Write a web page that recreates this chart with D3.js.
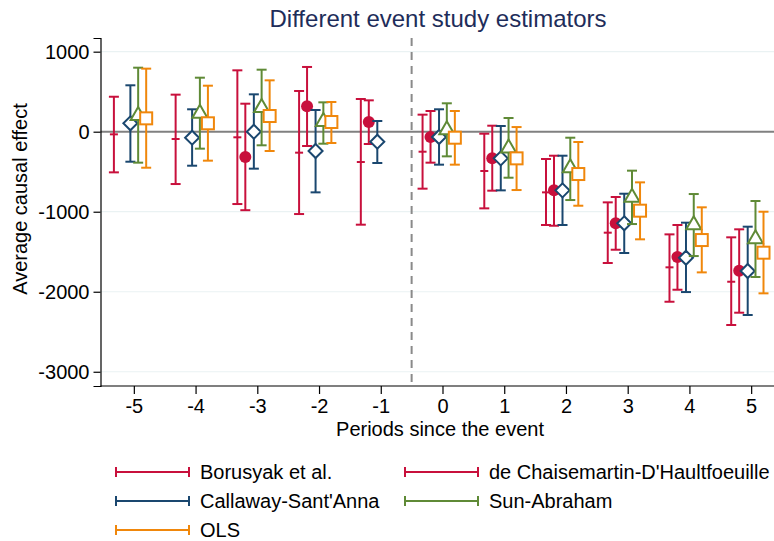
<!DOCTYPE html>
<html><head><meta charset="utf-8">
<script src="https://cdn.jsdelivr.net/npm/d3@7"></script>
<style>body{margin:0;background:#fff}svg{display:block;font-family:Arial,"Liberation Sans",sans-serif}</style>
</head><body>
<script>
const periods = [-5,-4,-3,-2,-1,0,1,2,3,4,5];
const yTicks = [1000,0,-1000,-2000,-3000];
const seriesNames = ["Borusyak et al.","de Chaisemartin-D'Haultfoeuille","Callaway-Sant'Anna","Sun-Abraham","OLS"];
// point estimates and confidence bounds
const borEst = [-33,-91,-70,-262,-379,-250,-491,-758,-1262,-1695,-1875];
const borLo  = [-508,-654,-904,-1029,-1162,-712,-958,-1166,-1641,-2125,-2416];
const borHi  = [437,463,767,509,409,213,-25,-341,-883,-1283,-1320];
const dcdEst = [null,null,-316,317,121,-66,-333,-733,-1145,-1566,-1737];
const dcdLo  = [null,null,-981,-179,-154,-387,-737,-1175,-1475,-1975,-2262];
const dcdHi  = [null,null,350,809,392,259,75,-300,-816,-1166,-1220];
const csEst  = [105,-75,0,-241,-125,-66,-333,-733,-1145,-1575,-1741];
const csLo   = [-375,-425,-462,-758,-391,-412,-733,-1166,-1516,-2004,-2291];
const csHi   = [580,280,467,271,134,280,71,-300,-775,-1137,-1187];
const saEst  = [210,237,310,134,null,30,-196,-445,-812,-1158,-1333];
const saLo   = [-387,-212,-170,-150,null,-308,-575,-854,-1154,-1554,-1816];
const saHi   = [800,675,775,367,null,355,171,-75,-487,-779,-866];
const olsEst = [167,105,196,121,null,-75,-333,-529,-987,-1354,-1512];
const olsLo  = [-450,-362,-241,-141,null,-412,-729,-925,-1345,-1758,-2020];
const olsHi  = [788,575,642,371,null,259,58,-129,-633,-945,-1000];

const W=774,H=541;
const colors=["#c8103c","#c8103c","#1a476f","#5f8a36","#f0870b"];
const offsets=[-0.323,-0.194,-0.056,0.07,0.2];
const markers=["dash","circle","diamond","triangle","square"];
const series=[[borEst,borLo,borHi],[dcdEst,dcdLo,dcdHi],[csEst,csLo,csHi],[saEst,saLo,saHi],[olsEst,olsLo,olsHi]];

const svg=d3.select("body").append("svg").attr("width",W).attr("height",H);
const L=100.5,R=774,T=38,B=386;
const x=d3.scaleLinear().domain([-5.54,5.37]).range([L,R]);
const y=d3.scaleLinear().domain([-3178,1171]).range([B,T]);
const fmt=d=>String(d).replace("\u2212","-");

// gridlines
svg.append("g").selectAll("line").data(yTicks.filter(d=>d!==0)).join("line")
  .attr("x1",L).attr("x2",R).attr("y1",d=>y(d)).attr("y2",d=>y(d))
  .attr("stroke","#eaf2f3").attr("stroke-width",1.2);
// zero line
svg.append("line").attr("x1",L).attr("x2",R).attr("y1",y(0)).attr("y2",y(0))
  .attr("stroke","#808080").attr("stroke-width",2);
// dashed line
svg.append("line").attr("x1",x(-0.5)).attr("x2",x(-0.5)).attr("y1",T).attr("y2",B)
  .attr("stroke","#8a8a8a").attr("stroke-width",2).attr("stroke-dasharray","8,6");

// axes
const yAxis=svg.append("g").attr("transform",`translate(${L},0)`)
  .call(d3.axisLeft(y).tickValues(yTicks).tickSize(7).tickPadding(4).tickFormat(fmt));
const xAxis=svg.append("g").attr("transform",`translate(0,${B})`)
  .call(d3.axisBottom(x).tickValues(periods).tickSize(8).tickPadding(5).tickFormat(fmt));
[yAxis,xAxis].forEach(a=>{
  a.select(".domain").attr("stroke","#000").attr("stroke-width",1.2);
  a.selectAll(".tick line").attr("stroke","#000").attr("stroke-width",1.2);
  a.selectAll("text").attr("fill","#000").attr("font-size",20).attr("font-family","Arial, 'Liberation Sans', sans-serif");
});
xAxis.select(".domain").attr("d",`M${L},0H${R}`);

// series
const capW=5;
series.forEach((s,i)=>{
  const g=svg.append("g");
  const c=colors[i];
  periods.forEach((p,j)=>{
    const e=s[0][j],lo=s[1][j],hi=s[2][j];
    if(e===null) return;
    const cx=x(p+offsets[i]);
    g.append("line").attr("x1",cx).attr("x2",cx).attr("y1",y(lo)).attr("y2",y(hi)).attr("stroke",c).attr("stroke-width",2);
    [lo,hi].forEach(v=>g.append("line").attr("x1",cx-capW).attr("x2",cx+capW).attr("y1",y(v)).attr("y2",y(v)).attr("stroke",c).attr("stroke-width",2));
    const cy=y(e);
    const m=markers[i];
    if(m==="dash"){
      g.append("line").attr("x1",cx-4).attr("x2",cx+4).attr("y1",cy).attr("y2",cy).attr("stroke",c).attr("stroke-width",2);
    } else if(m==="circle"){
      g.append("circle").attr("cx",cx).attr("cy",cy).attr("r",6).attr("fill",c);
    } else if(m==="diamond"){
      g.append("path").attr("d",`M${cx},${cy-7}L${cx+7},${cy}L${cx},${cy+7}L${cx-7},${cy}Z`).attr("fill","#fff").attr("stroke",c).attr("stroke-width",2);
    } else if(m==="triangle"){
      g.append("path").attr("d",`M${cx},${cy-8}L${cx+7.5},${cy+5}L${cx-7.5},${cy+5}Z`).attr("fill","#fff").attr("stroke",c).attr("stroke-width",2);
    } else if(m==="square"){
      g.append("rect").attr("x",cx-6).attr("y",cy-6).attr("width",12).attr("height",12).attr("fill","#fff").attr("stroke",c).attr("stroke-width",2);
    }
  });
});

// titles
svg.append("text").attr("x",438).attr("y",27).attr("text-anchor","middle").attr("font-size",24).attr("fill","#1e2d5a").text("Different event study estimators");
svg.append("text").attr("x",440).attr("y",436).attr("text-anchor","middle").attr("font-size",20).attr("fill","#000").text("Periods since the event");
svg.append("text").attr("transform",`translate(27,199) rotate(-90)`).attr("text-anchor","middle").attr("font-size",20).attr("fill","#000").text("Average causal effect");

// legend
const legPos=[[116,472],[405,472],[116,501],[405,501],[116,530]];
seriesNames.forEach((n,i)=>{
  const [lx,ly]=legPos[i];
  const g=svg.append("g");
  g.append("line").attr("x1",lx).attr("x2",lx+73).attr("y1",ly).attr("y2",ly).attr("stroke",colors[i]).attr("stroke-width",2);
  [lx,lx+73].forEach(v=>g.append("line").attr("x1",v).attr("x2",v).attr("y1",ly-5).attr("y2",ly+5).attr("stroke",colors[i]).attr("stroke-width",2));
  g.append("text").attr("x",lx+84).attr("y",ly).attr("dy","0.36em").attr("font-size",20).attr("fill","#000").text(n);
});
</script>
</body></html>
